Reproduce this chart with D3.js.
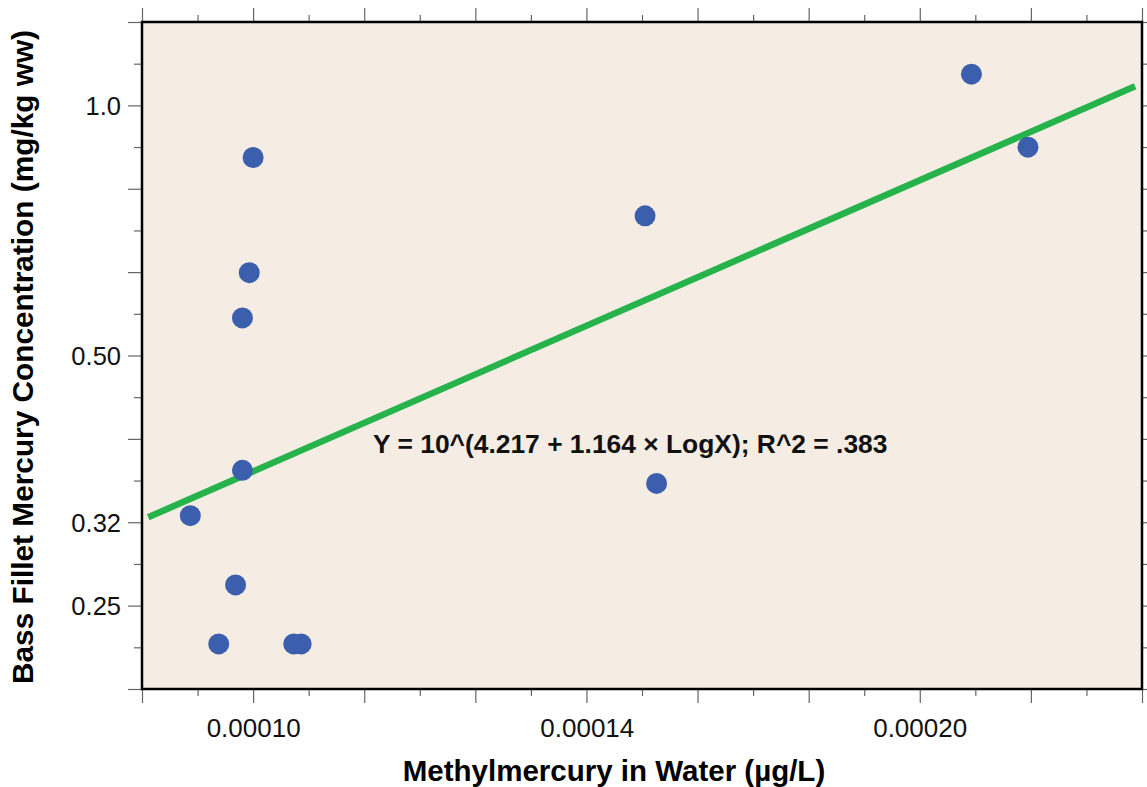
<!DOCTYPE html>
<html>
<head>
<meta charset="utf-8">
<script src="https://cdn.jsdelivr.net/npm/d3@7"></script>
<style>
  html, body { margin: 0; padding: 0; background: #ffffff; }
  svg { display: block; font-family: "Liberation Sans", Arial, sans-serif; }
</style>
</head>
<body>
<svg id="chart" width="1147" height="787"></svg>
<script>
// ---- data ----
const waterMeHg = [0.0002105, 0.0002232, 0.0001000, 0.0000996, 0.0000989, 0.0000989,
                   0.0000937, 0.0000982, 0.0000965, 0.0001043, 0.0001051, 0.0001501, 0.0001519];
const fishHg    = [1.090, 0.891, 0.866, 0.630, 0.556, 0.365,
                   0.322, 0.266, 0.226, 0.226, 0.226, 0.737, 0.352];
const xTickValues = [0.0001, 0.0001413, 0.0001995];
const xTickLabels = ["0.00010", "0.00014", "0.00020"];
const yTickValues = [1.0, 0.501, 0.3162, 0.2512];
const yTickLabels = ["1.0", "0.50", "0.32", "0.25"];
const fitIntercept = 4.217;
const fitSlope = 1.164;
const fitRange = [0.0000897, 0.0002494];
const equationText = "Y = 10^(4.217 + 1.164 \u00D7 LogX); R^2 = .383";
const xTitle = "Methylmercury in Water (\u00B5g/L)";
const yTitle = "Bass Fillet Mercury Concentration (mg/kg ww)";

// ---- layout ----
const L = 142, R = 1142, T = 22, B = 689;
const svg = d3.select("#chart");

const x = d3.scaleLog().domain([Math.pow(10, -4.05), Math.pow(10, -3.6)]).range([L, R]);
const y = d3.scaleLog().domain([Math.pow(10, -0.7), Math.pow(10, 0.1)]).range([B, T]);

// plot background
svg.append("rect").attr("x", L).attr("y", T).attr("width", R - L).attr("height", B - T)
  .attr("fill", "#F5EDE4");

// tick positions (log-spaced)
const xMajor = d3.range(0, 10).map(i => Math.pow(10, -4.05 + i * 0.05));
const xMinor = d3.range(0, 9).map(i => Math.pow(10, -4.025 + i * 0.05));
const yMajor = d3.range(0, 9).map(i => Math.pow(10, -0.7 + i * 0.1));
const yMinor = d3.range(0, 8).map(i => Math.pow(10, -0.65 + i * 0.1));

function styleTicks(g) {
  g.select(".domain").remove();
  g.selectAll(".tick line").attr("stroke", "#666").attr("stroke-width", 1.2);
  g.selectAll(".tick text").remove();
}

// bottom ticks
svg.append("g").attr("transform", `translate(0,${B})`)
  .call(d3.axisBottom(x).tickValues(xMajor).tickSize(14)).call(styleTicks);
svg.append("g").attr("transform", `translate(0,${B})`)
  .call(d3.axisBottom(x).tickValues(xMinor).tickSize(7)).call(styleTicks);
// top ticks
svg.append("g").attr("transform", `translate(0,${T})`)
  .call(d3.axisTop(x).tickValues(xMajor).tickSize(14)).call(styleTicks);
svg.append("g").attr("transform", `translate(0,${T})`)
  .call(d3.axisTop(x).tickValues(xMinor).tickSize(7)).call(styleTicks);
// left ticks
svg.append("g").attr("transform", `translate(${L},0)`)
  .call(d3.axisLeft(y).tickValues(yMajor).tickSize(14)).call(styleTicks);
svg.append("g").attr("transform", `translate(${L},0)`)
  .call(d3.axisLeft(y).tickValues(yMinor).tickSize(8)).call(styleTicks);
// right ticks
svg.append("g").attr("transform", `translate(${R},0)`)
  .call(d3.axisRight(y).tickValues(yMajor).tickSize(14)).call(styleTicks);
svg.append("g").attr("transform", `translate(${R},0)`)
  .call(d3.axisRight(y).tickValues(yMinor).tickSize(8)).call(styleTicks);

// tick labels
const xLab = svg.append("g").attr("transform", `translate(0,${B})`)
  .call(d3.axisBottom(x).tickValues(xTickValues).tickSize(0).tickPadding(0)
        .tickFormat((d, i) => xTickLabels[i]));
xLab.select(".domain").remove();
xLab.selectAll(".tick text").attr("y", 48).attr("dy", 0)
  .attr("font-size", "26px").attr("font-family", "Liberation Sans, Arial, sans-serif")
  .attr("fill", "#111");

const yLab = svg.append("g").attr("transform", `translate(${L},0)`)
  .call(d3.axisLeft(y).tickValues(yTickValues).tickSize(0).tickPadding(0)
        .tickFormat((d, i) => yTickLabels[i]));
yLab.select(".domain").remove();
yLab.selectAll(".tick text").attr("x", -21).attr("dy", "0.36em")
  .attr("font-size", "25.5px").attr("font-family", "Liberation Sans, Arial, sans-serif")
  .attr("fill", "#111");

// frame
svg.append("rect").attr("x", L).attr("y", T).attr("width", R - L).attr("height", B - T)
  .attr("fill", "none").attr("stroke", "#000").attr("stroke-width", 2.5);

// regression line
const fit = d3.line()
  .x(d => x(d))
  .y(d => y(Math.pow(10, fitIntercept + fitSlope * Math.log10(d))));
svg.append("path").datum(fitRange).attr("d", fit)
  .attr("fill", "none").attr("stroke", "#27B34B").attr("stroke-width", 6.5);

// points
svg.append("g").selectAll("circle").data(waterMeHg).join("circle")
  .attr("cx", d => x(d)).attr("cy", (d, i) => y(fishHg[i])).attr("r", 10.5)
  .attr("fill", "#3B5FAC");

// equation
svg.append("text").attr("x", 373).attr("y", 453)
  .attr("font-size", "26.4px").attr("font-weight", "bold").attr("fill", "#111")
  .text(equationText);

// axis titles
svg.append("text").attr("x", 614).attr("y", 781).attr("text-anchor", "middle")
  .attr("font-size", "29.5px").attr("font-weight", "bold").attr("fill", "#000")
  .text(xTitle);
svg.append("text").attr("transform", "translate(33,357) rotate(-90)").attr("text-anchor", "middle")
  .attr("font-size", "29.8px").attr("font-weight", "bold").attr("fill", "#000")
  .text(yTitle);
</script>
</body>
</html>
